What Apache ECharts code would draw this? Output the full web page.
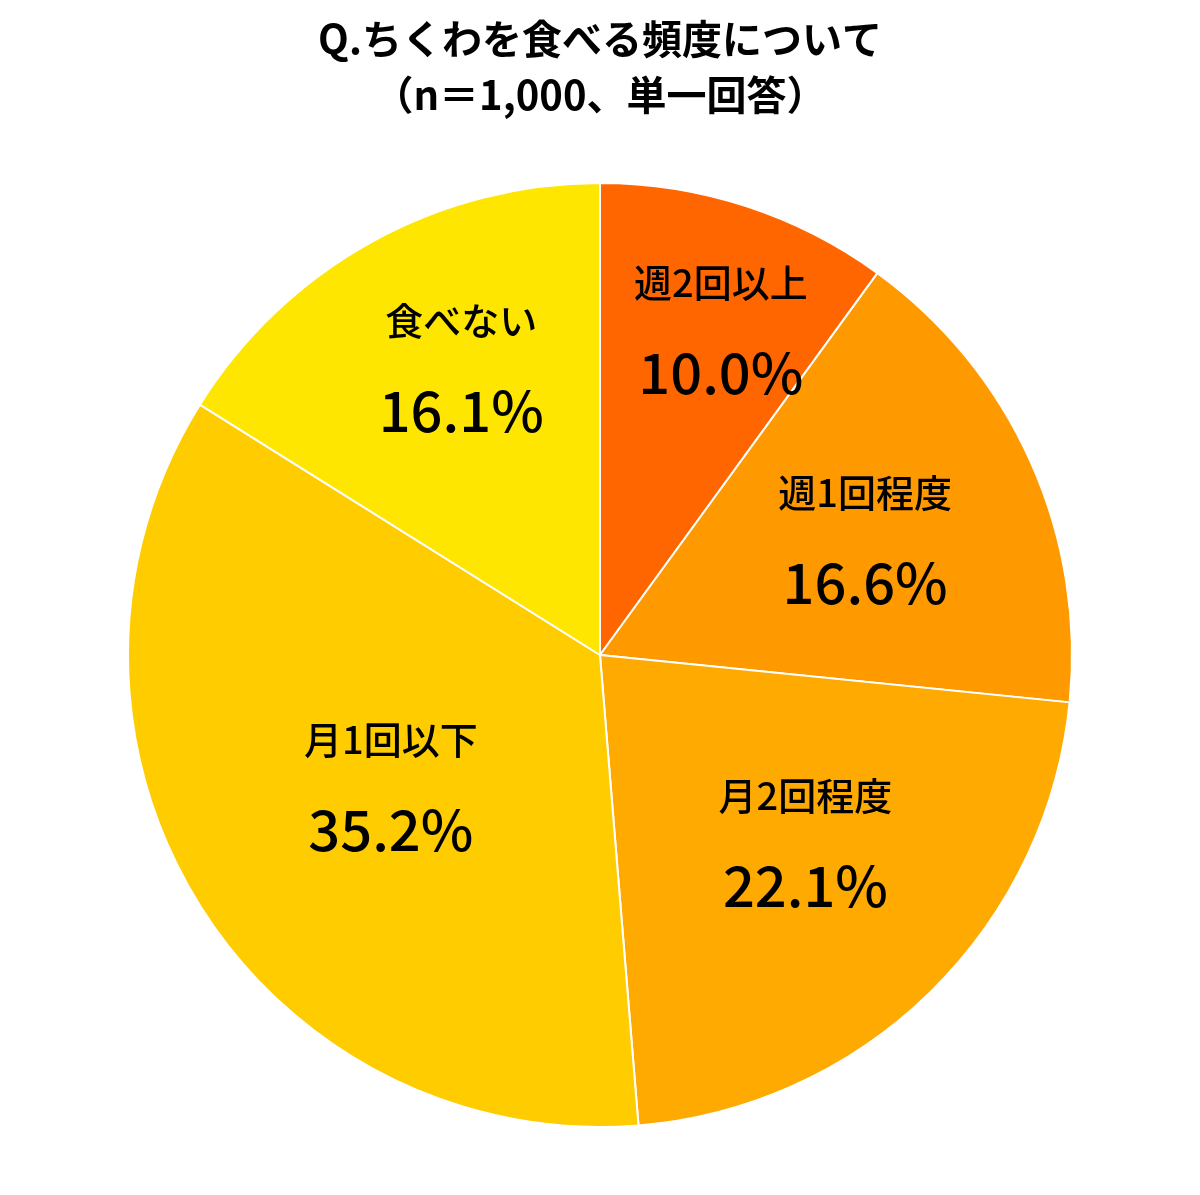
<!DOCTYPE html>
<html><head><meta charset="utf-8">
<script src="https://cdn.jsdelivr.net/npm/echarts@6/dist/echarts.min.js"></script>
<style>html,body{margin:0;padding:0;background:#fff}#c{width:1200px;height:1195px}</style>
</head><body><div id="c"></div>
<script>
const categories = ['週2回以上','週1回程度','月2回程度','月1回以下','食べない'];
const values = [10.0, 16.6, 22.1, 35.2, 16.1];
const colors = ['#FF6600','#FF9900','#FFAA00','#FFCC00','#FFE600'];
const offsets = [[47,-100],[47,-20],[38,15],[-5,5],[-23,-80]];
const chart = echarts.init(document.getElementById('c'));
chart.setOption({
  title:{text:'Q.ちくわを食べる頻度について\n（n＝1,000、単一回答）',left:'center',top:6,
    textStyle:{fontFamily:'Noto Sans CJK JP',fontSize:40,fontWeight:'bold',color:'#000',lineHeight:56}},
  series:[{type:'pie',center:[600,655],radius:[0,472],startAngle:90,clockwise:true,
    avoidLabelOverlap:false,
    itemStyle:{borderColor:'#fff',borderWidth:2},
    data:categories.map((c,i)=>({name:c,value:values[i],itemStyle:{color:colors[i]},
      label:{offset:offsets[i]}})),
    label:{show:true,position:'inside',formatter:p=>p.name+'\n{v|'+p.value.toFixed(1)+'%}',
      fontFamily:'Noto Sans CJK JP',fontSize:38,fontWeight:500,color:'#000',lineHeight:90,
      rich:{v:{fontFamily:'Noto Sans CJK JP',fontSize:56,fontWeight:500,color:'#000',lineHeight:90}}},
    labelLine:{show:false}, animation:false}]
});
</script></body></html>
